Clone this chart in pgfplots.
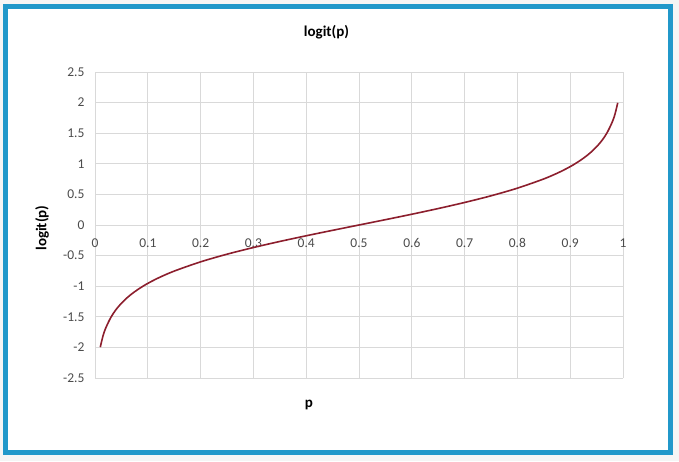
\documentclass[border=0pt]{standalone}
\usepackage{pgfplots}
\pgfplotsset{compat=1.18}
\usepackage{fontspec}
\setmainfont{Carlito}
\definecolor{frameblue}{RGB}{33,152,202}
\definecolor{curvered}{RGB}{140,30,45}
\definecolor{gridgray}{RGB}{217,217,217}

\begin{document}
\begin{tikzpicture}[x=1pt,y=1pt]
\useasboundingbox (0,0) rectangle (679,461);
\fill[gray!8] (0,0) rectangle (679,461);
\fill[white] (5.5,9) rectangle (670,454);
\draw[frameblue, line width=5pt] (5.5,9) rectangle (670,454);

\begin{axis}[
    at={(95pt,83pt)}, anchor=south west,
    scale only axis,
    width=528pt, height=306pt,
    xmin=0, xmax=1, ymin=-2.5, ymax=2.5,
    axis x line=middle,
    axis y line=left,
    hide obscured x ticks=false,
    hide obscured y ticks=false,
    axis line style={gridgray, line width=0.8pt, -},
    xtick={0,0.1,...,1.0},
    ytick={-2.5,-2,...,2.5},
    xticklabels={0,0.1,0.2,0.3,0.4,0.5,0.6,0.7,0.8,0.9,1},
    yticklabels={-2.5,-2,-1.5,-1,-0.5,0,0.5,1,1.5,2,2.5},
    /pgf/number format/assume math mode=true,
    major tick length=0pt,
    grid=major,
    major grid style={gridgray, line width=0.8pt},
    tick label style={font=\fontsize{13.5}{15}\selectfont, text=black!70},
    xticklabel style={anchor=north, yshift=-10pt},
    yticklabel style={anchor=east, xshift=-7pt},
    clip=false,
]
\addplot[curvered, line width=1.6pt, smooth] coordinates {
    (0.01,-1.996) (0.015,-1.817) (0.02,-1.690) (0.03,-1.510) (0.04,-1.380)
    (0.05,-1.279) (0.06,-1.195) (0.07,-1.123) (0.08,-1.061) (0.09,-1.005)
    (0.10,-0.954) (0.12,-0.865) (0.15,-0.753) (0.20,-0.602) (0.25,-0.477)
    (0.30,-0.368) (0.35,-0.269) (0.40,-0.176) (0.45,-0.087) (0.50,0)
    (0.55,0.087) (0.60,0.176) (0.65,0.269) (0.70,0.368) (0.75,0.477)
    (0.80,0.602) (0.85,0.753) (0.88,0.865) (0.90,0.954) (0.91,1.005)
    (0.92,1.061) (0.93,1.123) (0.94,1.195) (0.95,1.279) (0.96,1.380)
    (0.97,1.510) (0.98,1.690) (0.985,1.817) (0.99,1.996)
};
\end{axis}

\node[font=\fontsize{15}{17}\selectfont\bfseries] at (326.5,429) {logit(p)};
\node[font=\fontsize{15}{17}\selectfont\bfseries, rotate=90] at (42,233) {logit(p)};
\node[font=\fontsize{15}{17}\selectfont\bfseries] at (309,56) {p};
\end{tikzpicture}
\end{document}
